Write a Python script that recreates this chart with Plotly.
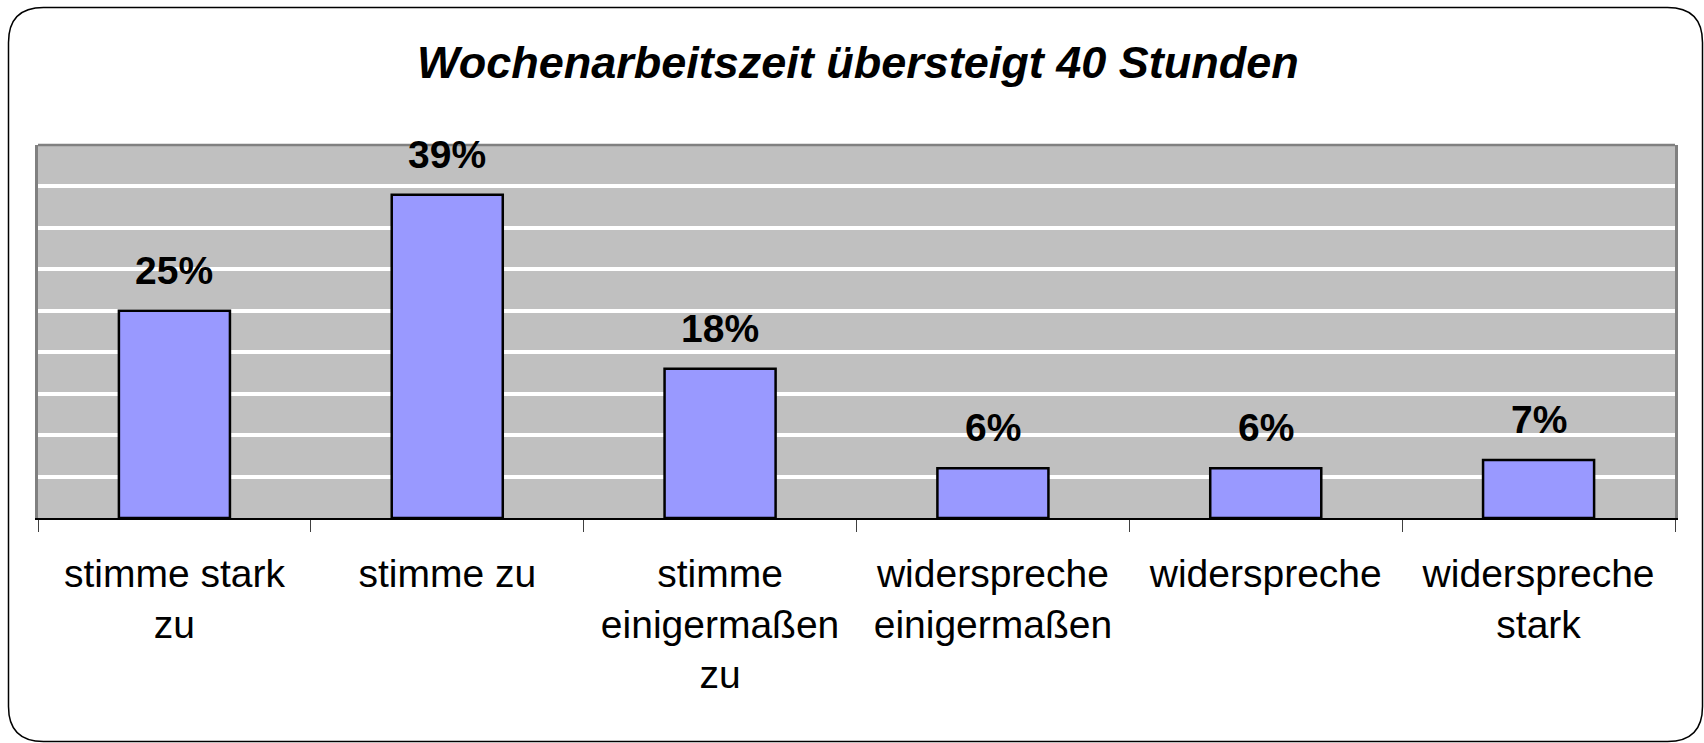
import plotly.graph_objects as go

categories = [
    "stimme stark<br>zu",
    "stimme zu",
    "stimme<br>einigermaßen<br>zu",
    "widerspreche<br>einigermaßen",
    "widerspreche",
    "widerspreche<br>stark",
]
values = [25, 39, 18, 6, 6, 7]
labels = ["25%", "39%", "18%", "6%", "6%", "7%"]
title_text = "Wochenarbeitszeit übersteigt 40 Stunden"

W, H = 1704, 743
L, R, T, B = 38, 1675, 145, 518
FONT = "Liberation Sans, Arial, sans-serif"


def px2paper(x, y):
    return (x - L) / (R - L), (B - y) / (B - T)


fig = go.Figure()
fig.add_trace(go.Bar(
    x=categories, y=values,
    marker=dict(color="#9999FF", line=dict(color="black", width=2.5)),
    hoverinfo="skip",
))

for c, v, t in zip(categories, values, labels):
    fig.add_annotation(x=c, y=v, text="<b>" + t + "</b>", showarrow=False, yanchor="bottom",
                       yshift=17, font=dict(family=FONT, size=39, color="black"),
                       xref="x", yref="y")

# title
tx, ty = px2paper(858, 62)
fig.add_annotation(x=tx, y=ty, xref="paper", yref="paper", showarrow=False,
                   text="<b><i>" + title_text + "</i></b>", xanchor="center", yanchor="middle",
                   font=dict(family=FONT, size=45, color="black"))

# rounded outer border
x0, y0, x1, y1, r = 8.5, 7.5, 1702.5, 741.5, 35
pts = [
    ("M", (x0 + r, y0)), ("L", (x1 - r, y0)), ("Q", (x1, y0), (x1, y0 + r)),
    ("L", (x1, y1 - r)), ("Q", (x1, y1), (x1 - r, y1)),
    ("L", (x0 + r, y1)), ("Q", (x0, y1), (x0, y1 - r)),
    ("L", (x0, y0 + r)), ("Q", (x0, y0), (x0 + r, y0)),
]
path = ""
for seg in pts:
    cmd = seg[0]
    coords = []
    for p in seg[1:]:
        px, py = px2paper(*p)
        coords.append(f"{px:.6f},{py:.6f}")
    path += cmd + " " + " ".join(coords) + " "
path += "Z"
fig.add_shape(type="path", path=path, xref="paper", yref="paper",
              line=dict(color="black", width=1.5), fillcolor="rgba(0,0,0,0)", layer="above")

# top border of plot area
fig.add_shape(type="line", x0=0, x1=1, y0=1, y1=1, xref="paper", yref="paper",
              line=dict(color="#808080", width=2.5), layer="above")

fig.update_layout(
    width=W, height=H,
    margin=dict(l=L, r=W - R, t=T, b=H - B),
    paper_bgcolor="white", plot_bgcolor="#C0C0C0",
    bargap=0.593, showlegend=False,
    font=dict(family=FONT, color="black"),
)
fig.update_xaxes(
    showline=True, linecolor="black", linewidth=2,
    ticks="outside", tickson="boundaries", ticklen=12, tickcolor="#404040", tickwidth=1,
    tickfont=dict(family=FONT, size=39, color="black"),
    ticklabelstandoff=20,
    showgrid=False, fixedrange=True,
)
fig.update_yaxes(
    range=[0, 45], dtick=5, showticklabels=False,
    showgrid=True, gridcolor="white", gridwidth=4,
    zeroline=False, showline=True, linecolor="#808080", linewidth=2.5, mirror=True,
    ticks="", fixedrange=True,
)

fig.write_html(
    "out.html",
    config={"displayModeBar": False},
    post_script="document.body.style.margin='0';document.body.style.overflow='hidden';"
                "document.documentElement.style.overflow='hidden';",
)
